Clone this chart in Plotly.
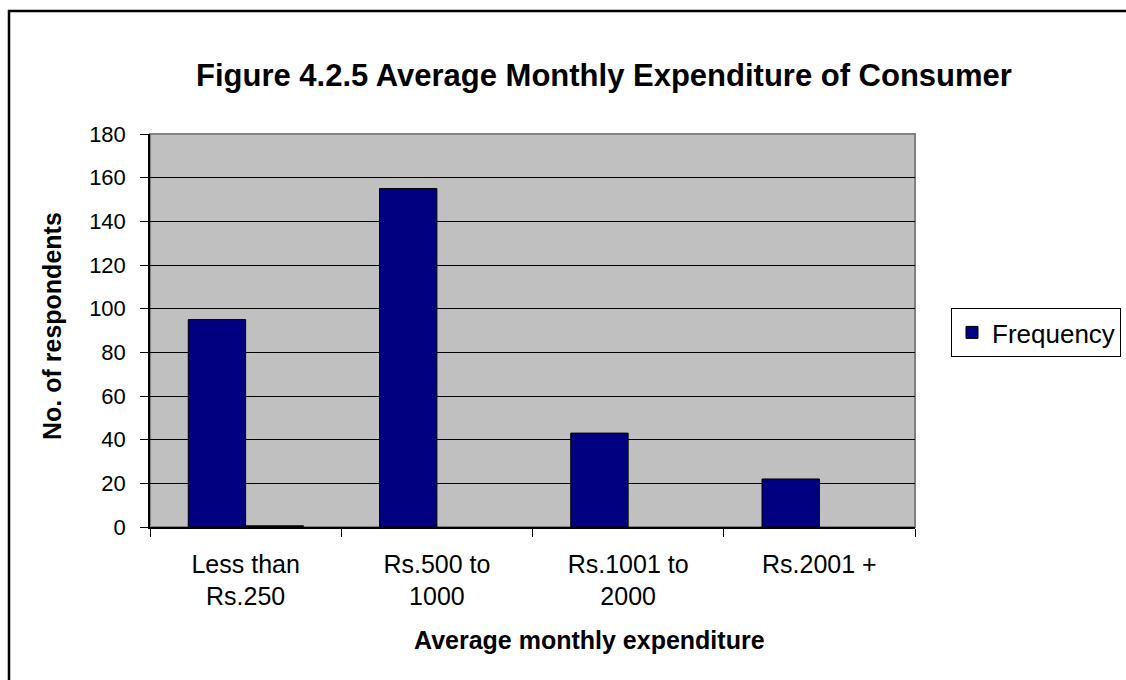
import plotly.graph_objects as go

categories = ["Less than<br>Rs.250", "Rs.500 to<br>1000", "Rs.1001 to<br>2000", "Rs.2001 +"]
frequency = [95, 155, 43, 22]
second_series = [0.5, None, None, None]

FONT = "Liberation Sans, Arial, sans-serif"
L, R, T, B = 150, 915, 134, 527
W, H = 1126, 680

def px(p):
    return (p - L) / (R - L)

def py(q):
    return (B - q) / (B - T)

fig = go.Figure()
fig.add_trace(go.Bar(x=categories, y=frequency, name="Frequency",
                     marker=dict(color="#000080", line=dict(color="black", width=1))))
fig.add_trace(go.Bar(x=categories, y=second_series, name="", showlegend=False,
                     marker=dict(color="#000080", line=dict(color="black", width=1.5))))

fig.update_layout(
    width=W, height=H,
    margin=dict(l=L, r=W - R, t=T, b=H - B, autoexpand=False),
    paper_bgcolor="white", plot_bgcolor="#c0c0c0",
    barmode="group", bargap=0.4, bargroupgap=0,
    font=dict(family=FONT, color="black", size=22),
    showlegend=True,
    legend=dict(xref="container", yref="container", x=951 / W, y=1 - 308 / H,
                xanchor="left", yanchor="top",
                bordercolor="black", borderwidth=1, bgcolor="white",
                font=dict(size=26, family=FONT), itemwidth=30),
    xaxis=dict(showline=True, linecolor="black", linewidth=1.5, automargin=False,
               ticks="outside", ticklen=8, tickcolor="black", tickson="boundaries",
               tickfont=dict(size=25, family=FONT), showgrid=False,
               ticklabelstandoff=14),
    yaxis=dict(range=[0, 180], dtick=20, showline=True, linecolor="black", linewidth=1.5,
               automargin=False,
               ticks="outside", ticklen=8, tickcolor="black",
               gridcolor="black", gridwidth=1, zeroline=False,
               tickfont=dict(size=22, family=FONT), ticklabelstandoff=10),
    shapes=[
        dict(type="rect", xref="paper", yref="paper", x0=0, x1=1, y0=0, y1=1,
             line=dict(color="#808080", width=2), layer="below"),
        dict(type="rect", xref="paper", yref="paper",
             x0=px(9), x1=px(1140), y0=py(700), y1=py(11),
             line=dict(color="black", width=2.5)),
    ],
    annotations=[
        dict(text="<b>Figure 4.2.5 Average Monthly Expenditure of Consumer</b>",
             xref="paper", yref="paper", x=px(604), y=py(76), showarrow=False,
             font=dict(size=31, family=FONT), xanchor="center", yanchor="middle"),
        dict(text="<b>No. of respondents</b>", textangle=-90,
             xref="paper", yref="paper", x=px(52), y=py(326), showarrow=False,
             font=dict(size=25, family=FONT), xanchor="center", yanchor="middle"),
        dict(text="<b>Average monthly expenditure</b>",
             xref="paper", yref="paper", x=px(589), y=py(640), showarrow=False,
             font=dict(size=25, family=FONT), xanchor="center", yanchor="middle"),
    ],
)

fig.write_html("out.html", post_script="document.body.style.margin='0';",
               config={"displayModeBar": False})
